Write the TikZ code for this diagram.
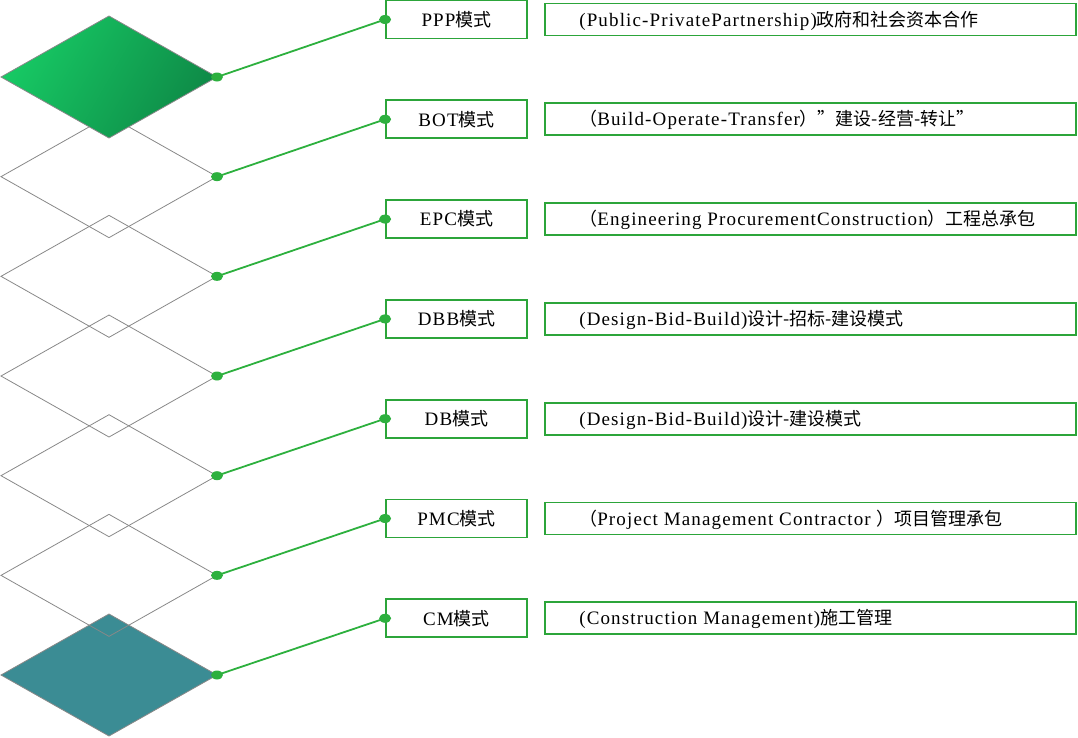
\documentclass[tikz,border=0pt]{standalone}
\usepackage{fontspec}
\setmainfont[LetterSpace=6]{Liberation Serif}
\newfontfamily\cjkf{Noto Sans CJK SC}
\newcommand{\zh}[1]{{\cjkf\fontsize{18}{22}\selectfont #1}}
\usetikzlibrary{shapes.geometric}
\definecolor{boxgreen}{HTML}{2CA53A}
\definecolor{linegreen}{HTML}{2DB03E}
\definecolor{gA}{HTML}{17C964}
\definecolor{gB}{HTML}{0E8A47}
\definecolor{teal}{HTML}{3B8C94}
\definecolor{edge}{HTML}{888888}
\begin{document}
\begin{tikzpicture}[x=1pt,y=-1pt,
  modebox/.style={draw=boxgreen, line width=1.8pt, minimum width=141pt, minimum height=38pt, inner sep=0pt, font=\fontsize{19}{22}\selectfont},
  descbox/.style={draw=boxgreen, line width=1.8pt, minimum width=531pt, minimum height=32pt, inner sep=0pt},
  desctext/.style={anchor=west, inner sep=0pt, font=\fontsize{19}{22}\selectfont},
  conn/.style={draw=linegreen, line width=1.8pt},
  dot/.style={ellipse, fill=linegreen, inner sep=0pt, minimum width=12pt, minimum height=9pt},
  rhomb/.style={draw=edge, line width=0.8pt}]
\useasboundingbox (0,0) rectangle (1078,737);
% bottom teal diamond
\filldraw[rhomb, fill=teal] (1,675) -- (109,614) -- (217,675) -- (109,736) -- cycle;
\coordinate (r7) at (217,675);
% outline diamonds
\foreach \i in {2,...,6}{
  \pgfmathsetmacro\cy{77+99.67*(\i-1)}
  \draw[rhomb] (1,\cy) -- (109,\cy-61) -- (217,\cy) -- (109,\cy+61) -- cycle;
  \coordinate (r\i) at (217,\cy);
}
% top green diamond
\shade[left color=gA, right color=gB, shading angle=60] (1,77) -- (109,16) -- (217,77) -- (109,138) -- cycle;
\draw[rhomb] (1,77) -- (109,16) -- (217,77) -- (109,138) -- cycle;
\coordinate (r1) at (217,77);
% boxes
\foreach \i/\m/\d in {
  1/{PPP\zh{模式}}/{(Public-PrivatePartnership)\zh{政府和社会资本合作}},
  2/{BOT\zh{模式}}/{\zh{（}Build-Operate-Transfer\zh{）”建设-经营-转让”}},
  3/{EPC\zh{模式}}/{\zh{（}Engineering ProcurementConstruction\zh{）工程总承包}},
  4/{DBB\zh{模式}}/{(Design-Bid-Build)\zh{设计-招标-建设模式}},
  5/{DB\zh{模式}}/{(Design-Bid-Build)\zh{设计-建设模式}},
  6/{PMC\zh{模式}}/{\zh{（}Project Management Contractor \zh{）项目管理承包}},
  7/{CM\zh{模式}}/{(Construction Management)\zh{施工管理}}}{
  \pgfmathsetmacro\by{19.5+99.8*(\i-1)}
  \node[modebox] (m\i) at (456.5,\by) {\m};
  \node[descbox] (d\i) at (810.5,\by) {};
  \node[desctext] (t\i) at ([xshift=35pt,yshift=-1pt]d\i.west) {\d};
  \draw[conn] (r\i) -- (m\i.west);
  \node[dot] at (r\i) {};
  \node[dot] at (m\i.west) {};
}
\end{tikzpicture}
\end{document}
